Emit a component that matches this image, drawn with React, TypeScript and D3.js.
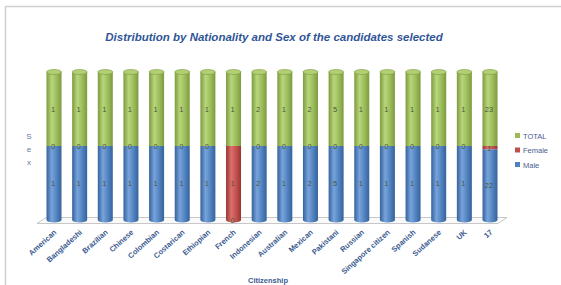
import * as d3 from 'd3';
import { useEffect, useRef } from 'react';

const categories = ['American', 'Bangladeshi', 'Brazilian', 'Chinese', 'Colombian', 'Costarican', 'Ethiopian', 'French', 'Indonesian', 'Australian', 'Mexican', 'Pakistani', 'Russian', 'Singapore citizen', 'Spanish', 'Sudanese', 'UK', '17'];
const male = [1, 1, 1, 1, 1, 1, 1, 0, 2, 1, 2, 5, 1, 1, 1, 1, 1, 22];
const female = [0, 0, 0, 0, 0, 0, 0, 1, 0, 0, 0, 0, 0, 0, 0, 0, 0, 1];
const total = [1, 1, 1, 1, 1, 1, 1, 1, 2, 1, 2, 5, 1, 1, 1, 1, 1, 23];
const seriesNames = ['Male', 'Female', 'TOTAL'];

const colors: Record<string, { base: string; light: string; dark: string; top: string }> = {
    Male: { base: '#4f81bd', light: '#78a3dc', dark: '#35629b', top: '#6f98d0' },
    Female: { base: '#c0504d', light: '#dc6f6b', dark: '#983532', top: '#d46a66' },
    TOTAL: { base: '#9bbb59', light: '#b9d67c', dark: '#7c9a3e', top: '#b2cf74' },
};

export default function App() {
    const ref = useRef<HTMLDivElement>(null);

    useEffect(() => {
        const width = 561;
        const height = 285;
        const cylW = 15;
        const ry = 2.5;
        const textColor = '#3b5b8f';

        const rows = categories.map((c, i) => ({ cat: c, Male: male[i], Female: female[i], TOTAL: total[i] }));
        const stack = d3.stack<any>().keys(seriesNames).offset(d3.stackOffsetExpand);
        const series = stack(rows);

        const x = d3.scalePoint<string>().domain(categories).range([54, 490]);
        const y = d3.scaleLinear().domain([0, 1]).range([220, 72]);

        const svg = d3.create('svg')
            .attr('width', width)
            .attr('height', height)
            .style('position', 'absolute')
            .style('left', 0)
            .style('top', 0)
            .style('font-family', '"Liberation Sans", Arial, sans-serif');

        const defs = svg.append('defs');
        seriesNames.forEach(k => {
            const g = defs.append('linearGradient').attr('id', 'g-' + k).attr('x1', 0).attr('x2', 1).attr('y1', 0).attr('y2', 0);
            g.append('stop').attr('offset', '0%').attr('stop-color', colors[k].dark);
            g.append('stop').attr('offset', '35%').attr('stop-color', colors[k].light);
            g.append('stop').attr('offset', '70%').attr('stop-color', colors[k].base);
            g.append('stop').attr('offset', '100%').attr('stop-color', colors[k].dark);
        });

        svg.append('rect').attr('width', width).attr('height', height).attr('fill', 'white');
        // frame
        svg.append('rect')
            .attr('x', 5.5).attr('y', 6.5)
            .attr('width', 600).attr('height', 300)
            .attr('fill', 'none')
            .attr('stroke', '#d0d0d0')
            .attr('stroke-width', 1.5);

        svg.append('text')
            .attr('x', 274).attr('y', 41)
            .attr('text-anchor', 'middle')
            .attr('font-size', 11.5)
            .attr('font-weight', 'bold')
            .attr('font-style', 'italic')
            .attr('fill', '#2f5597')
            .text('Distribution by Nationality and Sex of the candidates selected');

        // floor
        const x0 = (x(categories[0]) as number) - 17;
        const x1 = (x(categories[categories.length - 1]) as number) + 17;
        svg.append('path')
            .attr('d', `M${x0},223.5 L${x0 + 9},217.5 L${x1},217.5 L${x1 - 9},223.5 Z`)
            .attr('fill', '#fafafa')
            .attr('stroke', '#c8c8c8')
            .attr('stroke-width', 1);

        // Sex label
        ['S', 'e', 'x'].forEach((ch, i) => {
            svg.append('text')
                .attr('x', 29).attr('y', 139 + i * 13)
                .attr('text-anchor', 'middle')
                .attr('font-size', 8)
                .attr('fill', '#6b7a99')
                .text(ch);
        });

        // cylinders
        const cyl = svg.append('g');
        categories.forEach((c, ci) => {
            const cx = x(c) as number;
            const left = cx - cylW / 2;
            series.forEach((s, si) => {
                const d = s[ci];
                if (d[1] - d[0] <= 0) return;
                const k = s.key;
                const yTop = y(d[1]);
                const yBot = y(d[0]);
                const isBottom = d[0] === 0;
                let p = `M${left},${yTop} L${left},${yBot}`;
                if (isBottom) p += ` A${cylW / 2},${ry} 0 0 0 ${left + cylW},${yBot}`;
                else p += ` L${left + cylW},${yBot}`;
                p += ` L${left + cylW},${yTop} Z`;
                cyl.append('path').attr('d', p).attr('fill', `url(#g-${k})`);
                if (d[1] === 1) {
                    cyl.append('ellipse')
                        .attr('cx', cx).attr('cy', yTop)
                        .attr('rx', cylW / 2).attr('ry', ry)
                        .attr('fill', colors[k].top)
                        .attr('stroke', colors[k].dark)
                        .attr('stroke-width', 0.6);
                }
            });
        });

        // data labels
        const labels = svg.append('g')
            .attr('font-size', 7.5)
            .attr('fill', '#4a5a3a')
            .attr('text-anchor', 'middle');
        categories.forEach((c, ci) => {
            const cx = (x(c) as number) - 1;
            series.forEach((s, si) => {
                const d = s[ci];
                const v = (d.data as any)[s.key];
                const ym = y((d[0] + d[1]) / 2);
                labels.append('text')
                    .attr('x', cx).attr('y', ym + 3)
                    .text(v);
            });
        });

        // x labels
        const xl = svg.append('g')
            .attr('font-size', 7.5)
            .attr('font-weight', 'bold')
            .attr('fill', textColor);
        categories.forEach(c => {
            const cx = x(c) as number;
            xl.append('text')
                .attr('text-anchor', 'end')
                .attr('transform', `translate(${cx + 3},${233}) rotate(-42)`)
                .text(c);
        });

        svg.append('text')
            .attr('x', 268).attr('y', 283)
            .attr('text-anchor', 'middle')
            .attr('font-size', 7.5)
            .attr('font-weight', 'bold')
            .attr('fill', textColor)
            .text('Citizenship');

        // legend
        const legend = svg.append('g').attr('transform', 'translate(515,136)');
        ['TOTAL', 'Female', 'Male'].forEach((k, i) => {
            const g = legend.append('g').attr('transform', `translate(0,${i * 14.5})`);
            g.append('rect').attr('x', 0).attr('y', -3).attr('width', 5).attr('height', 5).attr('fill', colors[k].base);
            g.append('text').attr('x', 8).attr('y', 2.5).attr('font-size', 7.5).attr('fill', '#4a6090').text(k);
        });

        ref.current!.innerHTML = '';
        ref.current!.append(svg.node()!);
    }, []);

    return <div ref={ref}></div>;
}
